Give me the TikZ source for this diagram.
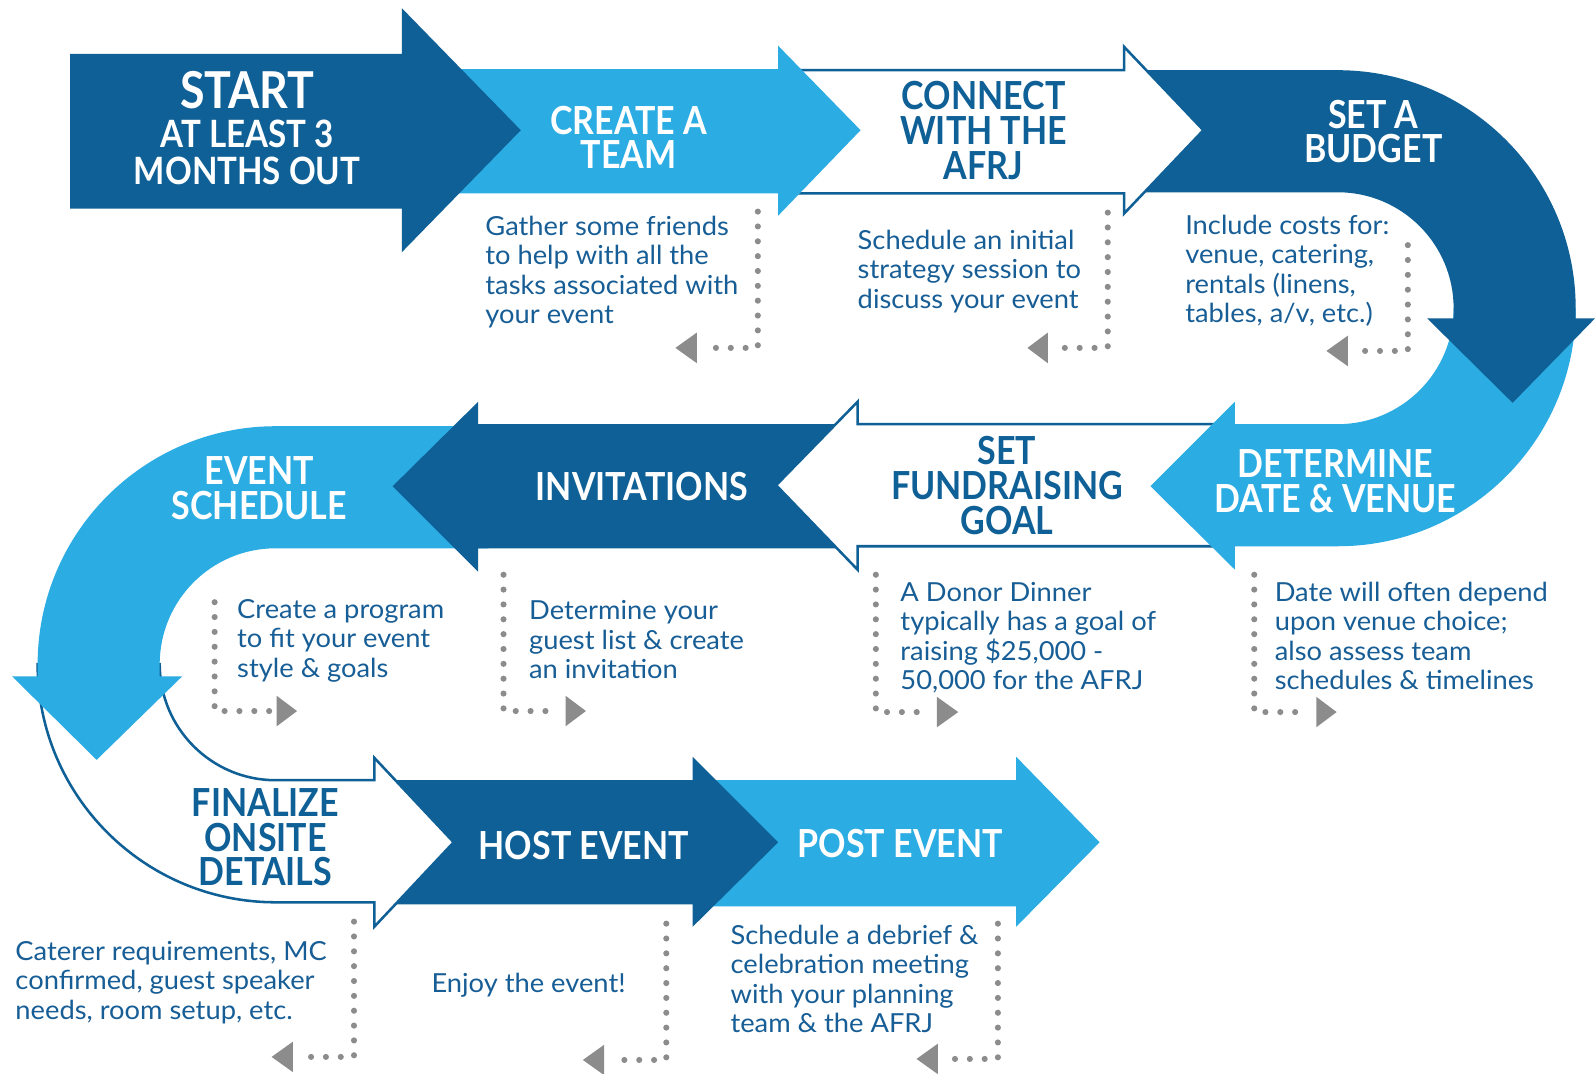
\documentclass[tikz,border=0pt]{standalone}
\usepackage{fontspec}
\setmainfont{Lato}
\newfontfamily\headfont{Lato}[FakeStretch=0.88]
\newfontfamily\bodyfont{Lato}[FakeStretch=1.04]
\definecolor{darkblue}{RGB}{15,96,150}
\definecolor{lightblue}{RGB}{43,172,227}
\definecolor{textblue}{RGB}{24,94,150}
\definecolor{dotgray}{RGB}{140,140,140}
\begin{document}
\begin{tikzpicture}[x=1pt,y=-1pt,
  darkarrow/.style={fill=darkblue},
  lightarrow/.style={fill=lightblue},
  whitearrow/.style={fill=white,draw=darkblue,line width=2.5pt,line join=miter},
  headw/.style={text=white,font=\headfont\bfseries\fontsize{38}{34}\selectfont,align=center,inner sep=0pt,anchor=north},
  headd/.style={headw,text=darkblue},
  body/.style={text=textblue,font=\bodyfont\fontsize{25.8}{29}\selectfont,align=left,inner sep=0pt,anchor=north west},
  dotline/.style={draw=dotgray,line width=6pt,line cap=round,dash pattern=on 0pt off 14.6pt},
  tri/.style={fill=dotgray}]
\useasboundingbox (0,0) rectangle (1568,1055);
\fill[white] (0,0) rectangle (1568,1055);

% ---- arrows, bottom to top ----
% POST EVENT
\path[lightarrow] (700,767) -- (999,767) -- (999,744) -- (1081,828) -- (999,911) -- (999,891) -- (700,891) -- cycle;
% HOST EVENT
\path[darkarrow] (380,767) -- (681,767) -- (681,744) -- (765,828) -- (681,911) -- (681,889) -- (380,889) -- cycle;
% FINALIZE
\path[whitearrow] (37,653) .. controls (37,782.2) and (141.8,887) .. (271,887) -- (368,887) -- (368,911) -- (446,828) -- (368,745) -- (368,767) -- (271,767) .. controls (208,767) and (157,716) .. (157,653) -- cycle;
% EVENT SCHEDULE
\path[lightarrow] (480,419) -- (271,419) .. controls (141.8,419) and (37,523.8) .. (37,653) -- (37,665) -- (12,665) -- (95,747) -- (179,665) -- (157,665) -- (157,653) .. controls (157,590) and (208,539) .. (271,539) -- (480,539) -- cycle;
% INVITATIONS
\path[darkarrow] (830,417) -- (470,417) -- (470,395) -- (386,478) -- (470,562) -- (470,539) -- (830,539) -- cycle;
% FUNDRAISING
\path[whitearrow] (1200,417) -- (843,417) -- (843,395) -- (763,477) -- (843,560) -- (843,537) -- (1200,537) -- cycle;
% DETERMINE
\path[lightarrow] (1549,303) .. controls (1549,432.2) and (1444.2,537) .. (1315,537) -- (1214,537) -- (1214,560) -- (1131,478) -- (1214,395) -- (1214,417) -- (1315,417) .. controls (1378,417) and (1429,366) .. (1429,303) -- cycle;
% SET A BUDGET
\path[darkarrow] (1110,69) -- (1315,69) .. controls (1444.2,69) and (1549,173.8) .. (1549,303) -- (1549,313) -- (1568,313) -- (1487,396) -- (1403,313) -- (1429,313) -- (1429,303) .. controls (1429,240) and (1378,189) .. (1315,189) -- (1110,189) -- cycle;
% CONNECT
\path[whitearrow] (770,69) -- (1105,69) -- (1105,46) -- (1183,128) -- (1105,210) -- (1105,190) -- (770,190) -- cycle;
% CREATE A TEAM
\path[lightarrow] (440,68) -- (765,68) -- (765,45) -- (846,128) -- (765,212) -- (765,190) -- (440,190) -- cycle;
% START
\path[darkarrow] (69,53) -- (395,53) -- (395,8) -- (512,128) -- (395,248) -- (395,205) -- (69,205) -- cycle;

% ---- headings ----
\node[headw,font=\headfont\bfseries\fontsize{50}{50}\selectfont] (start) at (243,70) {START};
\node[headw,font=\headfont\bfseries\fontsize{37}{36}\selectfont] (startsub) at (243,118) {AT LEAST 3\\MONTHS OUT};
\node[headw] (team) at (618,104) {CREATE A\\TEAM};
\node[headd] (connect) at (967,80) {CONNECT\\WITH THE\\AFRJ};
\node[headw] (budget) at (1350,98) {SET A\\BUDGET};
\node[headw] (date) at (1313,442) {DETERMINE\\DATE \& VENUE};
\node[headd] (goal) at (990,429) {SET\\FUNDRAISING\\GOAL};
\node[headw] (invite) at (631,464) {INVITATIONS};
\node[headw] (sched) at (255,449) {EVENT\\SCHEDULE};
\node[headd] (final) at (261,775) {FINALIZE\\ONSITE\\DETAILS};
\node[headw] (host) at (574,817) {HOST EVENT};
\node[headw] (post) at (885,815) {POST EVENT};

% ---- descriptions ----
\node[body] (teamtxt) at (477,212) {Gather some friends\\to help with all the\\tasks associated with\\your event};
\node[body] (conntxt) at (843,226) {Schedule an initial\\strategy session to\\discuss your event};
\node[body] (budgtxt) at (1165,211) {Include costs for:\\venue, catering,\\rentals (linens,\\tables, a/v, etc.)};
\node[body] (schedtxt) at (233,589) {Create a program\\to fit your event\\style \& goals};
\node[body] (invtxt) at (520,590) {Determine your\\guest list \& create\\an invitation};
\node[body] (goaltxt) at (885,572) {A Donor Dinner\\typically has a goal of\\raising \$25,000 -\\50,000 for the AFRJ};
\node[body] (datetxt) at (1253,572) {Date will often depend\\upon venue choice;\\also assess team\\schedules \& timelines};
\node[body] (finaltxt) at (15,925) {Caterer requirements, MC\\confirmed, guest speaker\\needs, room setup, etc.};
\node[body] (hosttxt) at (424,956) {Enjoy the event!};
\node[body] (posttxt) at (718,909) {Schedule a debrief \&\\celebration meeting\\with your planning\\team \& the AFRJ};

% ---- dotted connectors ----
\coordinate (a1) at (745,208); \coordinate (a2) at (745,342); \coordinate (a3) at (691,342);
\draw[dotline] (a1) -- (a2) -- (a3);
\fill[tri] (685,327) -- (664,342) -- (685,357) -- cycle;
\coordinate (b1) at (1089,209); \coordinate (b2) at (1089,342); \coordinate (b3) at (1037,342);
\draw[dotline] (b1) -- (b2) -- (b3);
\fill[tri] (1030,327) -- (1010,342) -- (1030,357) -- cycle;
\coordinate (c1) at (1384,241); \coordinate (c2) at (1384,345); \coordinate (c3) at (1332,345);
\draw[dotline] (c1) -- (c2) -- (c3);
\fill[tri] (1325,330) -- (1304,345) -- (1325,360) -- cycle;
\coordinate (d1) at (211,592); \coordinate (d2) at (211,699); \coordinate (d3) at (266,699);
\draw[dotline] (d1) -- (d2) -- (d3);
\fill[tri] (272,684) -- (292,699) -- (272,714) -- cycle;
\coordinate (e1) at (495,565); \coordinate (e2) at (495,699); \coordinate (e3) at (549,699);
\draw[dotline] (e1) -- (e2) -- (e3);
\fill[tri] (556,684) -- (576,699) -- (556,714) -- cycle;
\coordinate (f1) at (861,565); \coordinate (f2) at (861,700); \coordinate (f3) at (914,700);
\draw[dotline] (f1) -- (f2) -- (f3);
\fill[tri] (921,685) -- (942,700) -- (921,715) -- cycle;
\coordinate (g1) at (1233,565); \coordinate (g2) at (1233,700); \coordinate (g3) at (1287,700);
\draw[dotline] (g1) -- (g2) -- (g3);
\fill[tri] (1294,685) -- (1314,700) -- (1294,715) -- cycle;
\coordinate (h1) at (348,906); \coordinate (h2) at (348,1039); \coordinate (h3) at (295,1039);
\draw[dotline] (h1) -- (h2) -- (h3);
\fill[tri] (288,1024) -- (267,1039) -- (288,1054) -- cycle;
\coordinate (i1) at (655,908); \coordinate (i2) at (655,1042); \coordinate (i3) at (601,1042);
\draw[dotline] (i1) -- (i2) -- (i3);
\fill[tri] (594,1027) -- (573,1042) -- (594,1057) -- cycle;
\coordinate (j1) at (981,908); \coordinate (j2) at (981,1041); \coordinate (j3) at (929,1041);
\draw[dotline] (j1) -- (j2) -- (j3);
\fill[tri] (922,1026) -- (901,1041) -- (922,1056) -- cycle;
\end{tikzpicture}
\end{document}
